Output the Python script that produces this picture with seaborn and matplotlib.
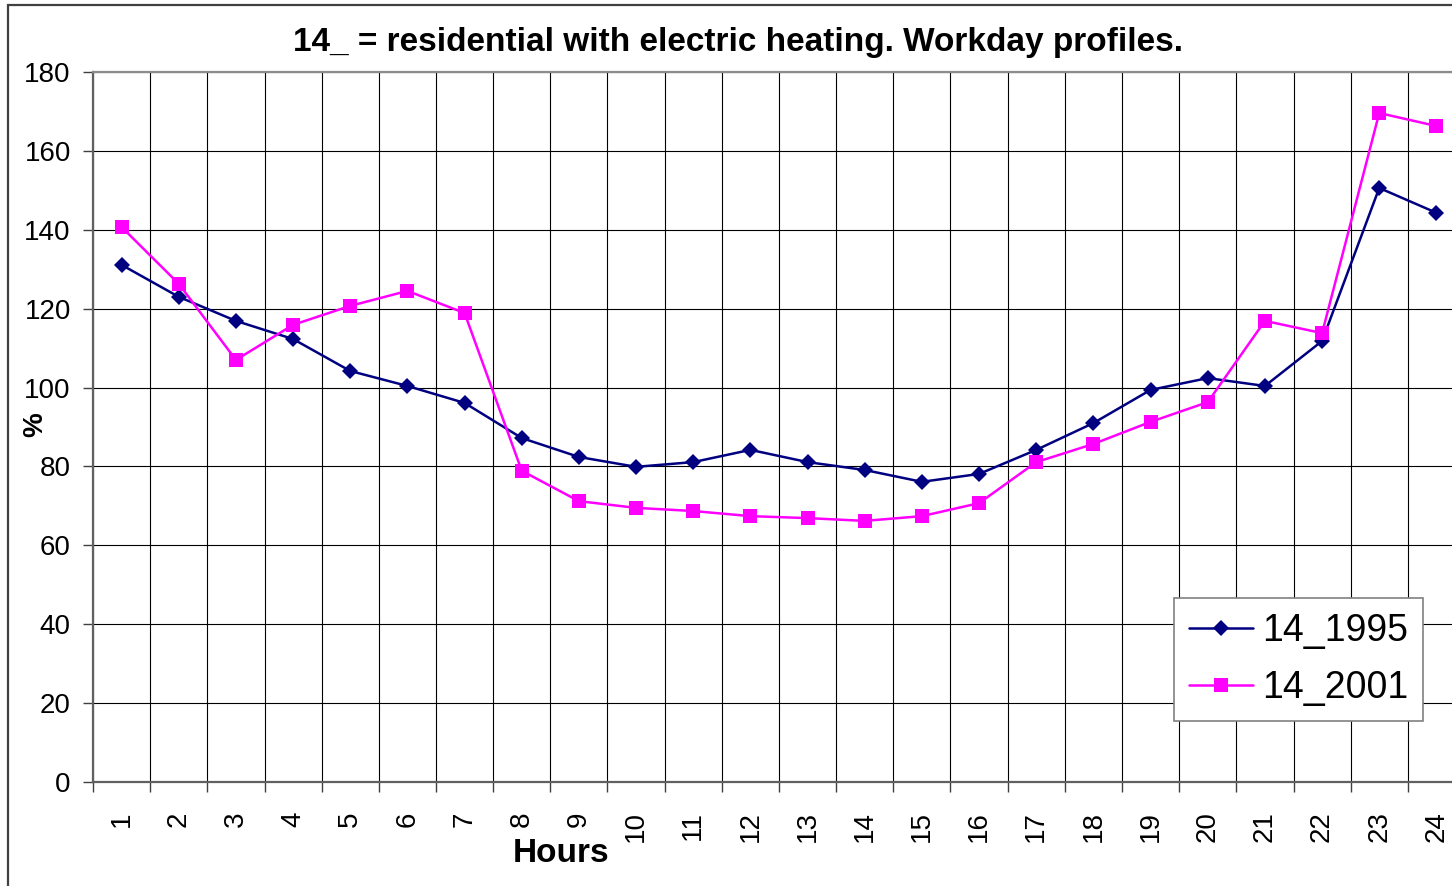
import numpy as np
import pandas as pd
import matplotlib
matplotlib.use("Agg")
import matplotlib.pyplot as plt
from matplotlib.patches import Rectangle
from matplotlib.lines import Line2D
from matplotlib.ticker import FixedLocator
import seaborn as sns

# data
hours = list(range(1, 25))
load_1995 = [131.1, 123.0, 116.9, 112.3, 104.2, 100.4, 96.1, 87.2, 82.4, 79.9, 81.1, 84.2,
             81.1, 79.1, 76.1, 78.1, 84.2, 91.0, 99.4, 102.4, 100.4, 111.8, 150.6, 144.3]
load_2001 = [140.7, 126.3, 107.0, 115.9, 120.7, 124.5, 118.9, 78.9, 71.2, 69.5, 68.7, 67.4,
             66.9, 66.2, 67.4, 70.7, 81.1, 85.7, 91.3, 96.3, 116.9, 113.8, 169.6, 166.3]
series_names = ["14_1995", "14_2001"]
y_ticks = list(range(0, 181, 20))

df = pd.concat([
    pd.DataFrame({"hour": hours, "value": load_1995, "series": series_names[0]}),
    pd.DataFrame({"hour": hours, "value": load_2001, "series": series_names[1]}),
])

sns.set_style("white")
plt.rcParams["font.family"] = ["Liberation Sans", "DejaVu Sans"]
plt.rcParams["text.color"] = "black"
plt.rcParams["axes.labelcolor"] = "black"
plt.rcParams["xtick.color"] = "black"
plt.rcParams["ytick.color"] = "black"

W, H = 1452, 886
fig = plt.figure(figsize=(W / 100, H / 100), dpi=100)

# plot area (Excel chart is cropped on the right, so the axes run past the edge)
left, right, top, bottom = 93, 1465, 72, 782
ax = fig.add_axes([left / W, 1 - bottom / H, (right - left) / W, (bottom - top) / H])

palette = {"14_1995": "#000080", "14_2001": "#FF00FF"}
markers = {"14_1995": "D", "14_2001": "s"}
sns.lineplot(data=df, x="hour", y="value", hue="series", style="series",
             palette=palette, markers=markers, dashes=False, linewidth=1.8,
             markersize=8.5, markeredgewidth=0, ax=ax, legend=False)
# diamond markers are drawn a little smaller than squares
ax.lines[0].set_markersize(8.2)
ax.lines[1].set_markersize(9.5)

ax.set_xlim(0.5, 24.5)
ax.set_ylim(0, 180)

# category labels at centres, ticks/grid at boundaries
ax.xaxis.set_major_locator(FixedLocator(hours))
ax.set_xticklabels([str(h) for h in hours], rotation=90, fontsize=20)
ax.xaxis.set_minor_locator(FixedLocator([h + 0.5 for h in range(0, 25)]))
ax.tick_params(axis="x", which="major", length=0, pad=21)
ax.tick_params(axis="x", which="minor", length=7, width=1, color="#404040", bottom=True)
ax.grid(True, axis="x", which="minor", color="black", linewidth=0.8)

ax.set_yticks(y_ticks)
ax.set_yticklabels([str(v) for v in y_ticks], fontsize=20)
ax.tick_params(axis="y", length=7, width=1, color="#404040", left=True, pad=9)
ax.grid(True, axis="y", which="major", color="black", linewidth=0.8)
ax.set_axisbelow(True)

for side in ["top", "right"]:
    ax.spines[side].set_color("#8c8c8c")
    ax.spines[side].set_linewidth(1.6)
for side in ["left", "bottom"]:
    ax.spines[side].set_color("#606060")
    ax.spines[side].set_linewidth(1.6)

ax.set_xlabel("Hours", fontsize=24, fontweight="bold")
ax.xaxis.set_label_coords((561 - left) / (right - left), -(854 - bottom) / (bottom - top))
ax.xaxis.label.set_va("center")
ax.set_ylabel("%", fontsize=20, fontweight="bold")
ax.yaxis.set_label_coords((35 - left) / (right - left), (bottom - 425) / (bottom - top))
ax.yaxis.label.set_va("center")

fig.text(738 / W, 1 - 43 / H, "14_ = residential with electric heating. Workday profiles.",
         ha="center", va="center", fontsize=24, fontweight="bold")

# legend
handles = [Line2D([], [], color=palette[s], marker=markers[s], linewidth=1.8,
                  markersize=9.5 if s == "14_2001" else 8.5, markeredgewidth=0)
           for s in series_names]
leg = fig.legend(handles, series_names, loc="upper left",
                 bbox_to_anchor=(1174 / W, 1 - 598 / H), fontsize=27, frameon=True,
                 fancybox=False, framealpha=1, edgecolor="#808080", borderpad=0.4,
                 handlelength=1.7, handletextpad=0.25, labelspacing=0.55, borderaxespad=0)
leg.get_frame().set_linewidth(1.2)

# outer chart border
fig.patches.append(Rectangle((8 / W, -0.05), 1.1, 1 - 5 / H + 0.05, transform=fig.transFigure,
                             fill=False, edgecolor="#404040", linewidth=1.6))

fig.savefig("out.png", dpi=100)
